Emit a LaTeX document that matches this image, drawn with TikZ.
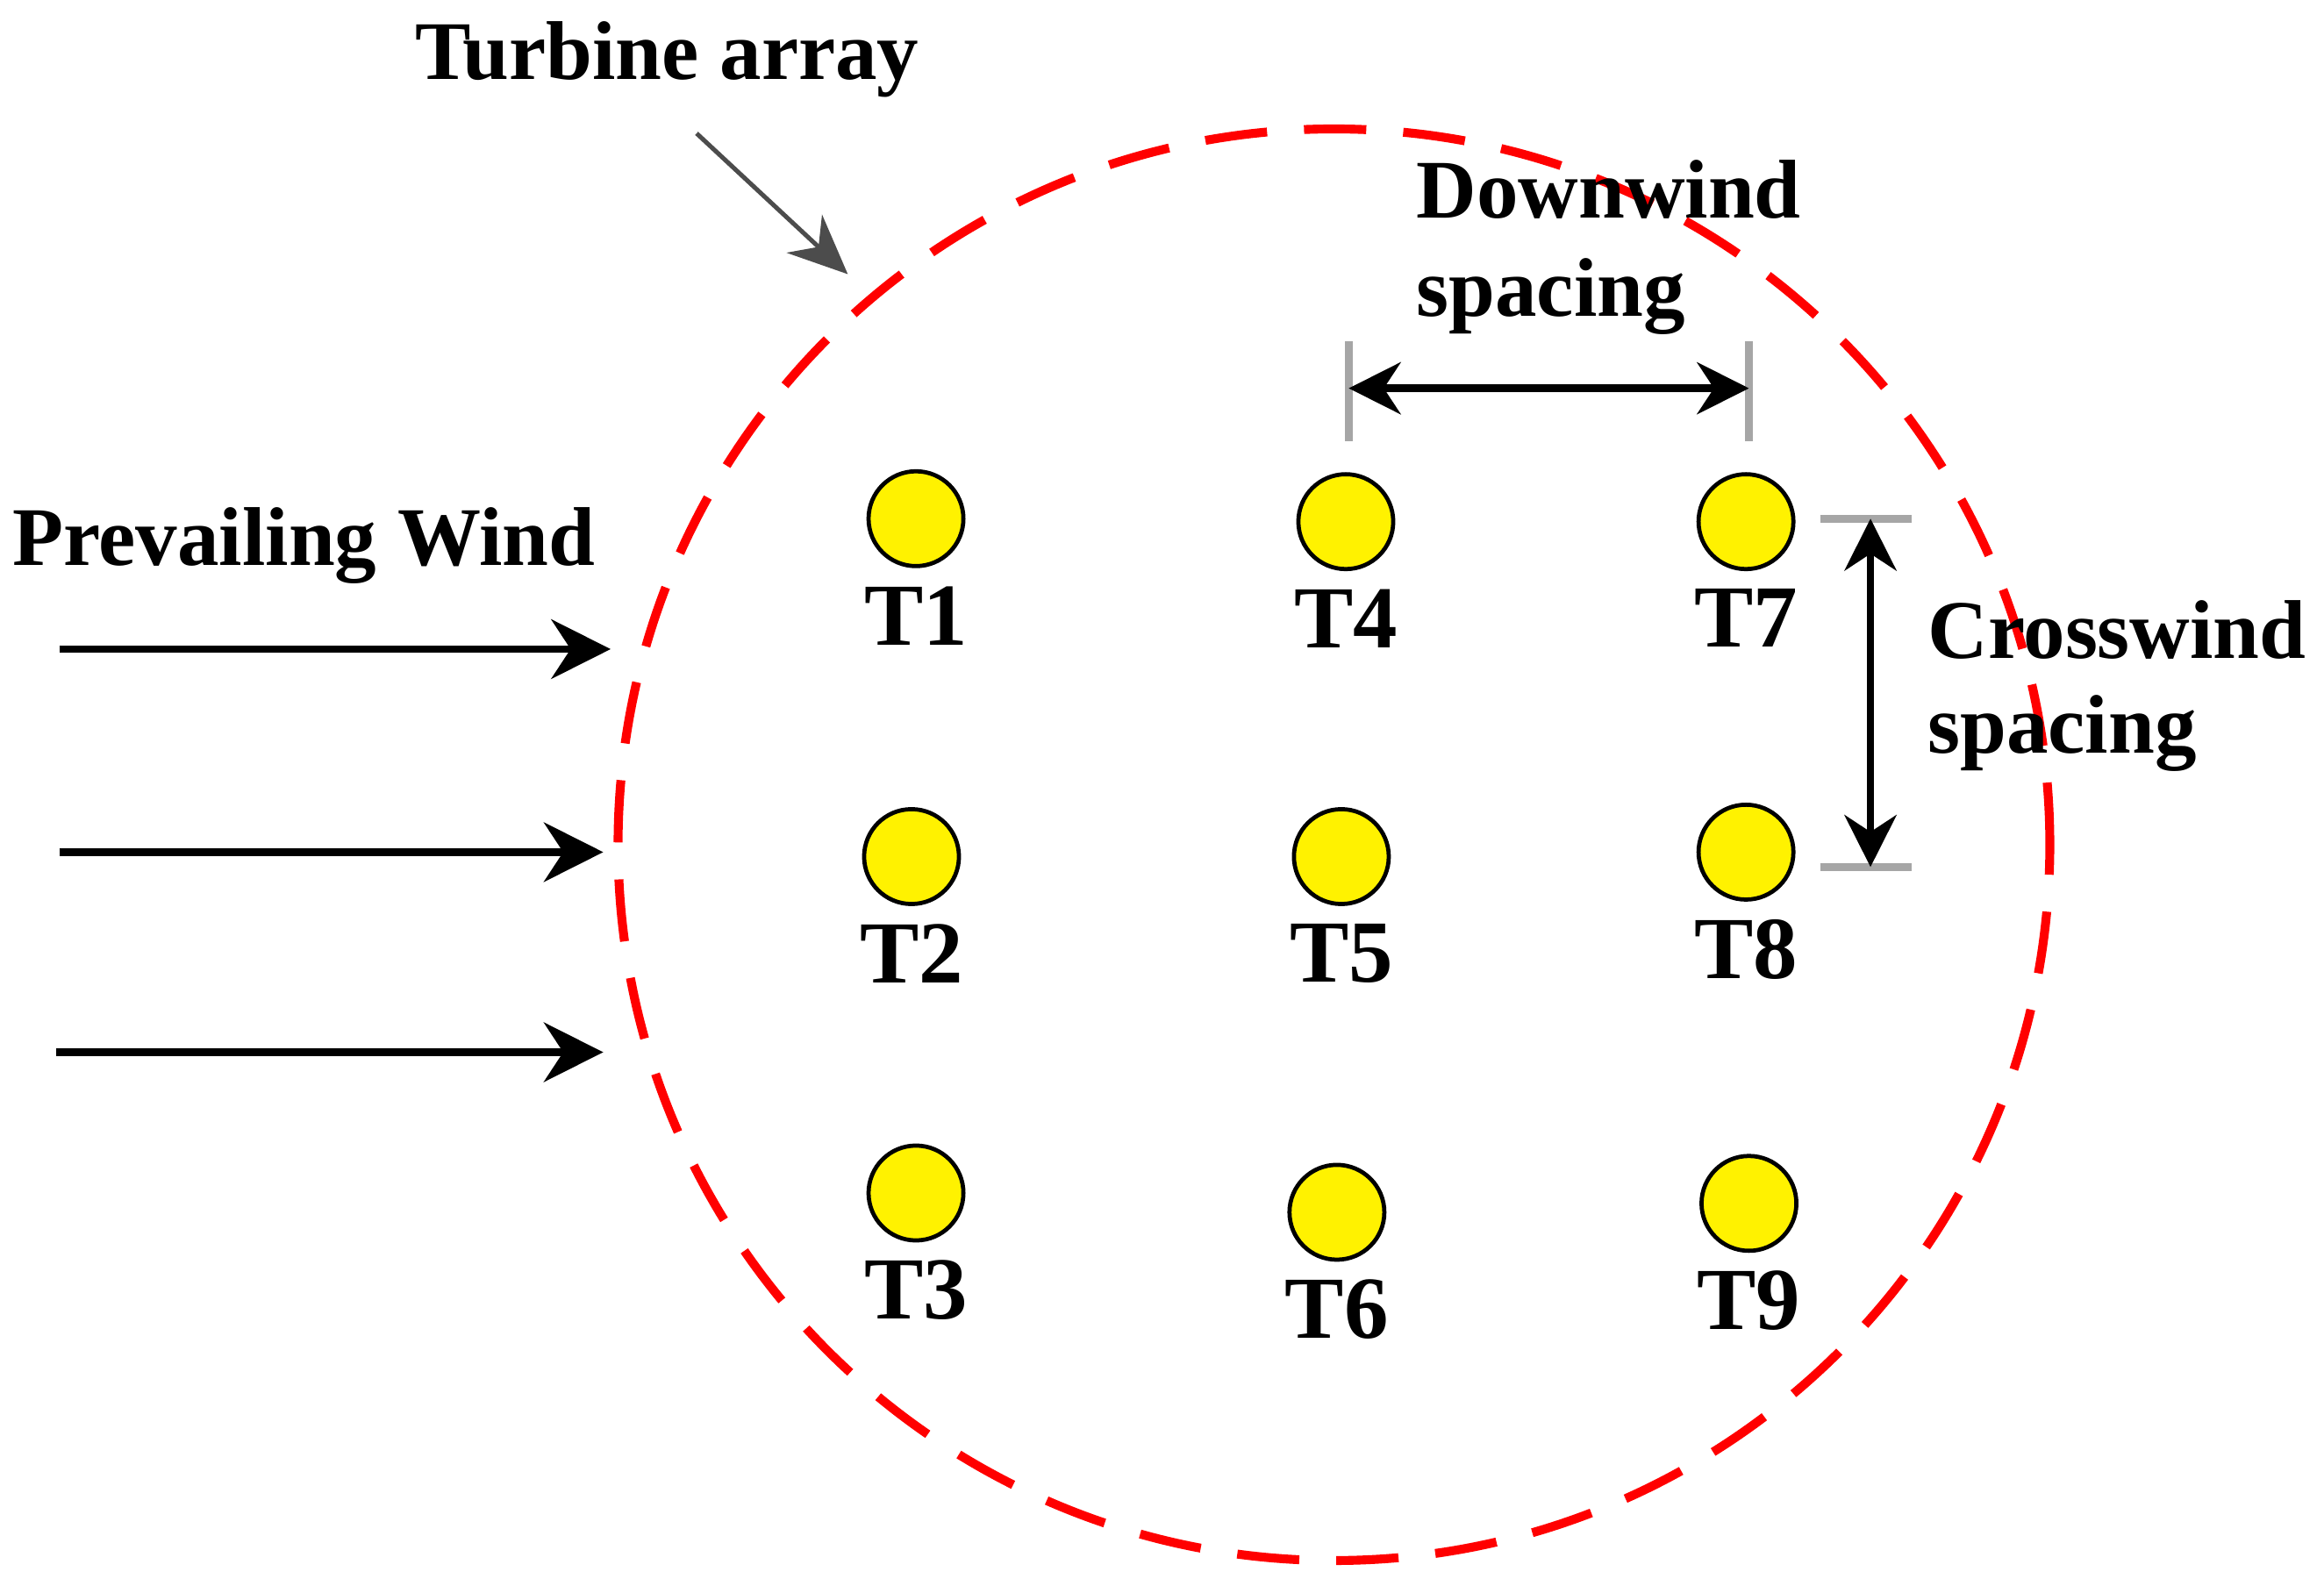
\documentclass[tikz,border=0pt]{standalone}
\usepackage{fontspec}
\setmainfont{Liberation Serif}
\usetikzlibrary{positioning,arrows.meta}

\tikzset{
  turbine/.style={draw, circle, fill=yellow, minimum size=0.64cm, inner sep=0pt, line width=0.8pt},
  tlabel/.style={font=\bfseries\fontsize{17}{19}\selectfont, inner sep=1pt},
  txt/.style={font=\bfseries\fontsize{16}{18}\selectfont, inner sep=0pt},
  wind/.style={-{Stealth[length=0.4cm, width=0.4cm]}, line width=0.05cm},
  tick/.style={gray!70, line width=0.05cm}
}

\begin{document}
\begin{tikzpicture}
\useasboundingbox (0,0) rectangle (15.68,10.70);

% array boundary
\draw[red, line width=0.06cm, dash pattern=on 0.42cm off 0.25cm] (9.00,5.00) circle (4.83);

% turbines
\node (t1) [turbine] at (6.18,7.20) {};
\node (t2) [turbine] at (6.15,4.92) {};
\node (t3) [turbine] at (6.18,2.65) {};
\node (t4) [turbine] at (9.08,7.18) {};
\node (t5) [turbine] at (9.05,4.92) {};
\node (t6) [turbine] at (9.02,2.52) {};
\node (t7) [turbine] at (11.78,7.18) {};
\node (t8) [turbine] at (11.78,4.95) {};
\node (t9) [turbine] at (11.80,2.58) {};
\foreach \i in {1,...,9}
  \node (l\i) [tlabel, below=0.08cm of t\i] {T\i};

% prevailing wind
\node (pw) [txt] at (2.05,7.02) {Prevailing Wind};
\coordinate (w1a) at (0.40,6.32); \coordinate (w1b) at (4.12,6.32);
\coordinate (w2a) at (0.40,4.95); \coordinate (w2b) at (4.07,4.95);
\coordinate (w3a) at (0.38,3.60); \coordinate (w3b) at (4.07,3.60);
\draw[wind] (w1a) -- (w1b);
\draw[wind] (w2a) -- (w2b);
\draw[wind] (w3a) -- (w3b);

% turbine array label
\node (ta) [txt] at (4.50,10.30) {Turbine array};
\coordinate (taa) at (4.70,9.80); \coordinate (tab) at (5.72,8.85);
\draw[-{Stealth[length=0.4cm, width=0.35cm]}, gray!60!black, line width=0.03cm] (taa) -- (tab);

% downwind spacing
\node (dw1) [txt, anchor=west] at (9.55,9.42) {Downwind};
\node (dw2) [txt, anchor=west] at (9.55,8.70) {spacing};
\coordinate (dl) at (9.10,8.08); \coordinate (dr) at (11.80,8.08);
\draw[tick] (9.10,8.40) -- (9.10,7.72);
\draw[tick] (11.80,8.40) -- (11.80,7.72);
\draw[{Stealth[length=0.35cm, width=0.35cm]}-{Stealth[length=0.35cm, width=0.35cm]}, line width=0.05cm] (dl) -- (dr);

% crosswind spacing
\node (cw1) [txt, anchor=west] at (13.00,6.45) {Crosswind};
\node (cw2) [txt, anchor=west] at (13.00,5.75) {spacing};
\coordinate (ct) at (12.62,7.20); \coordinate (cb) at (12.62,4.85);
\draw[tick] (12.28,7.20) -- (12.90,7.20);
\draw[tick] (12.28,4.85) -- (12.90,4.85);
\draw[{Stealth[length=0.35cm, width=0.35cm]}-{Stealth[length=0.35cm, width=0.35cm]}, line width=0.05cm] (ct) -- (cb);
\end{tikzpicture}
\end{document}
